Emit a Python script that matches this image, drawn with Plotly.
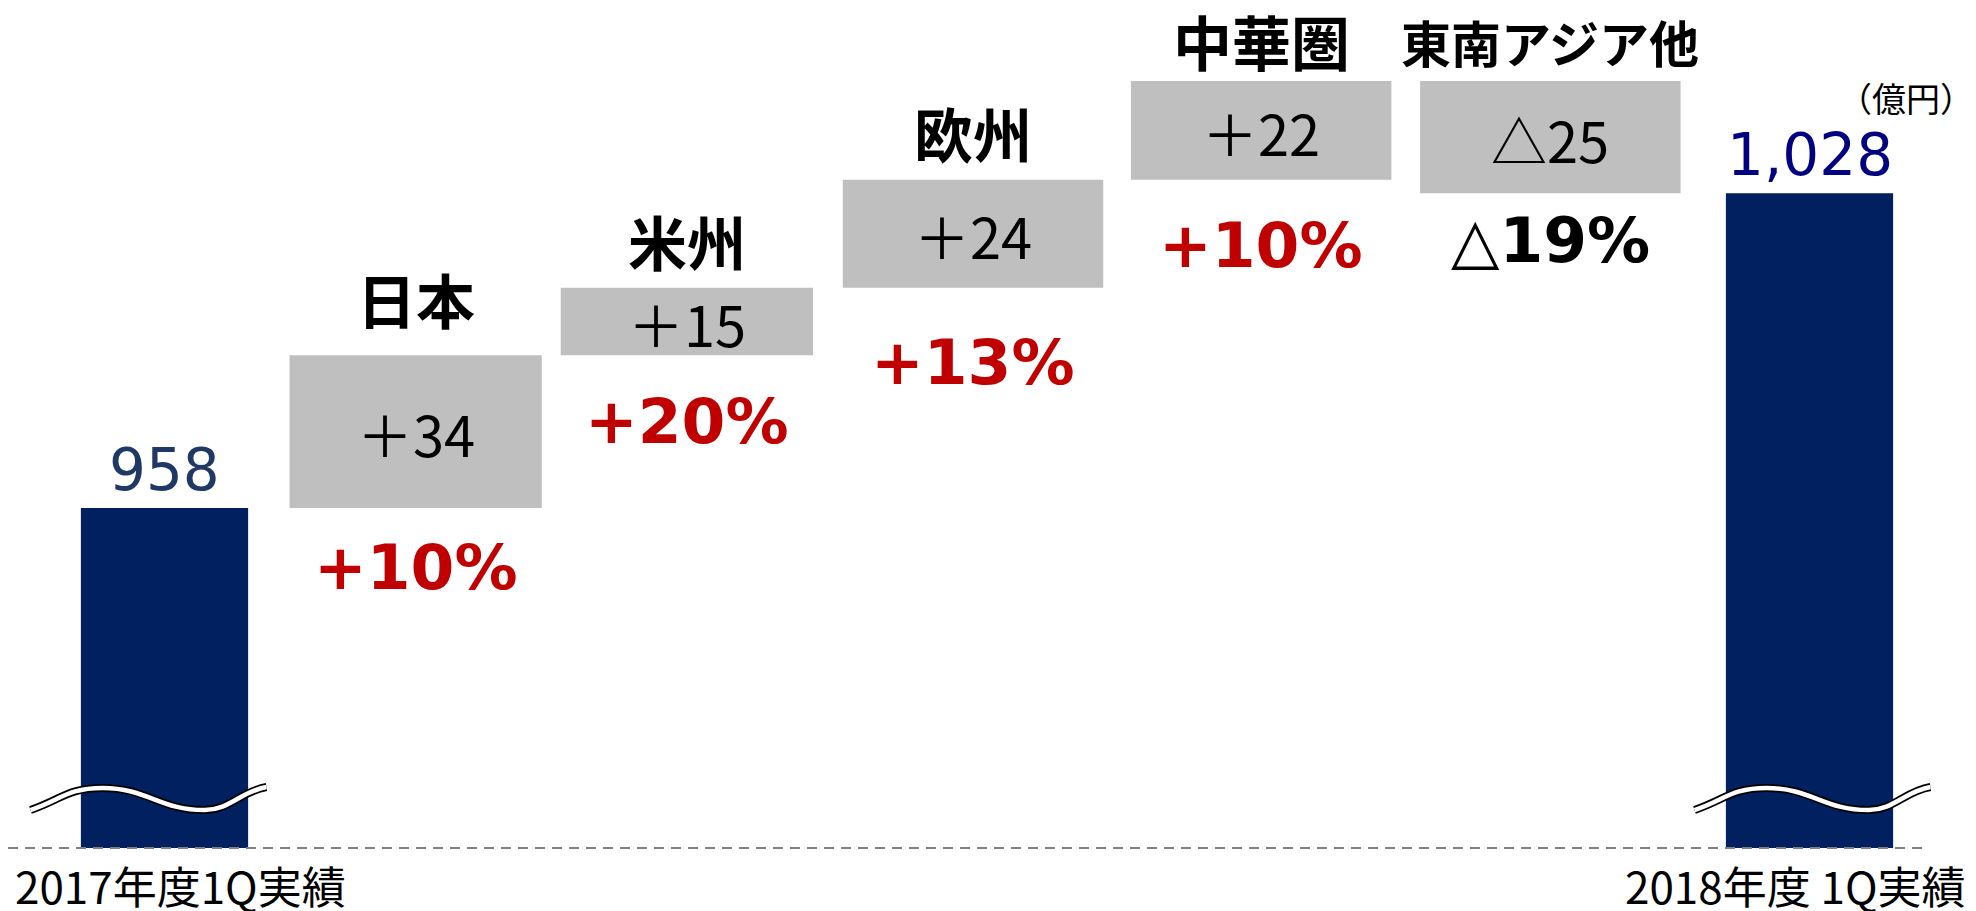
import plotly.graph_objects as go

# 売上高 地域別増減 (億円)
CATEGORIES = ["2017年度1Q実績", "日本", "米州", "欧州", "中華圏", "東南アジア他", "2018年度 1Q実績"]
START_VALUE = 958
DELTAS = [34, 15, 24, 22, -25]
GROWTH_PCT = [10, 20, 13, 10, -19]
UNIT_LABEL = "（億円）"

END_VALUE = START_VALUE + sum(DELTAS)

NAVY = "#002060"
GRAY = "#BFBFBF"
RED = "#C00000"
JP = "Noto Sans CJK JP"
LATIN = "DejaVu Sans, Noto Sans CJK JP"

# ページ余白 8px を差し引いたサイズ
W, H = 1968, 903

# 縦軸は途中を省略（958 と 1,053 の差が見えるように）
Y_RANGE = [882.35, 1069.24]
X_RANGE = [-0.5708, 6.6073]
PX_PER_CAT = W / (X_RANGE[1] - X_RANGE[0])

# 見た目の調整（棒幅、横方向の微調整 px、ラベルの間隔 px）
WIDTHS = [0.61, 0.92, 0.92, 0.95, 0.95, 0.95, 0.61]
NUDGE_PX = [0, -23, -26, -14, 0, 15, 0]
NAME_GAP = [57, 47, 47, 40, 40]
PCT_GAP = [60, 66, 75, 66, 47]
offsets = [n / PX_PER_CAT - w / 2 for n, w in zip(NUDGE_PX, WIDTHS)]

fig = go.Figure(go.Waterfall(
    x=CATEGORIES,
    y=[START_VALUE] + DELTAS + [0],
    measure=["absolute"] + ["relative"] * len(DELTAS) + ["total"],
    width=WIDTHS,
    offset=offsets,
    increasing=dict(marker=dict(color=GRAY)),
    decreasing=dict(marker=dict(color=GRAY)),
    totals=dict(marker=dict(color=NAVY)),
    connector=dict(visible=False),
    textinfo="none",
    hoverinfo="x+y",
))

ann = []

# 合計値ラベル
for cat, val, col in [(CATEGORIES[0], START_VALUE, "#1F3864"), (CATEGORIES[-1], END_VALUE, "#000080")]:
    ann.append(dict(x=cat, y=val, text=f"{val:,}", showarrow=False, yanchor="middle", yshift=38,
                    font=dict(family=LATIN, size=58, color=col)))

# 地域別の増減
cum = START_VALUE
for i, (cat, d, pct) in enumerate(zip(CATEGORIES[1:-1], DELTAS, GROWTH_PCT)):
    nx = NUDGE_PX[i + 1]
    top, bottom = max(cum, cum + d), min(cum, cum + d)
    cum += d
    ann.append(dict(x=cat, y=top, text=f"<b>{cat}</b>", showarrow=False, yanchor="middle", yshift=NAME_GAP[i],
                    xshift=nx, font=dict(family=JP, size=59 if len(cat) <= 3 else 50, color="black")))
    val_txt = f"＋{d}" if d > 0 else f"△{abs(d)}"
    ann.append(dict(x=cat, y=(top + bottom) / 2, text=val_txt, showarrow=False, yanchor="middle", yshift=-1,
                    xshift=nx, font=dict(family=JP, size=56, color="black")))
    if pct > 0:
        pct_txt, pct_col = f"<b>+{pct}%</b>", RED
    else:
        pct_txt, pct_col = f"△<b>{abs(pct)}%</b>", "black"
    ann.append(dict(x=cat, y=bottom, text=pct_txt, showarrow=False, yanchor="middle", yshift=-PCT_GAP[i],
                    xshift=nx, font=dict(family=LATIN, size=63, color=pct_col)))

ann.append(dict(xref="paper", yref="paper", x=1, y=0.893, text=UNIT_LABEL, showarrow=False,
                xanchor="right", yanchor="middle", font=dict(family=JP, size=34, color="black")))

# 年度ラベル
ann.append(dict(xref="paper", yref="paper", x=0.0025, y=0, yshift=-3, text=CATEGORIES[0], showarrow=False,
                xanchor="left", yanchor="top", font=dict(family=JP, size=44, color="black")))
ann.append(dict(xref="paper", yref="paper", x=0.9959, y=0, yshift=-3, text=CATEGORIES[-1], showarrow=False,
                xanchor="right", yanchor="top", font=dict(family=JP, size=44, color="black")))

# 省略記号（波線）と基準線
def wave(dx):
    pts = [(-118 + dx, -10), (-46 + dx, 12), (56 + dx, -10), (118 + dx, 13)]
    (x0, y0), (x1, y1), (x2, y2), (x3, y3) = pts
    return (f"M{x0},{y0} C{x0 + 30},{y0 + 10} {x1 - 35},{y1} {x1},{y1} "
            f"C{x1 + 45},{y1} {x2 - 45},{y2} {x2},{y2} "
            f"C{x2 + 25},{y2} {x3 - 25},{y3 - 4} {x3},{y3}")

shapes = [dict(type="line", xref="paper", yref="paper", x0=0, x1=0.9726, y0=0, y1=0,
               line=dict(color="#808080", width=2, dash="10px,7px"))]
for cat, dx in [(CATEGORIES[0], -16), (CATEGORIES[-1], 3)]:
    for col, w in [("black", 8), ("white", 4.5)]:
        shapes.append(dict(type="path", xref="x", yref="paper", xsizemode="pixel", ysizemode="pixel",
                           xanchor=cat, yanchor=0.0571, path=wave(dx), line=dict(color=col, width=w)))

fig.update_layout(
    width=W, height=H,
    margin=dict(l=0, r=0, t=0, b=63),
    paper_bgcolor="white", plot_bgcolor="white",
    showlegend=False,
    annotations=ann,
    shapes=shapes,
    xaxis=dict(range=X_RANGE, showgrid=False, zeroline=False, showline=False, ticks="",
               showticklabels=False, automargin=False),
    yaxis=dict(range=Y_RANGE, visible=False, showgrid=False, zeroline=False),
)

fig.write_html("out.html")
